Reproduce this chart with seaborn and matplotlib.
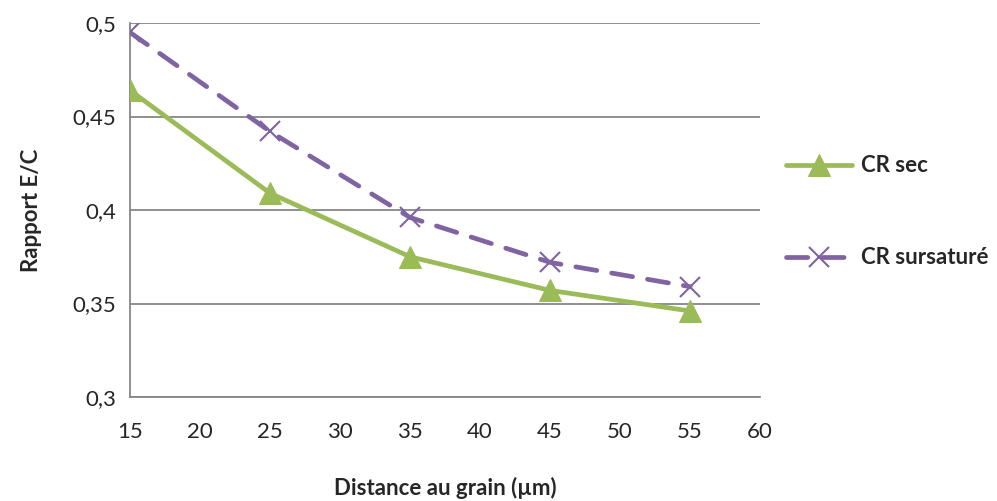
import pandas as pd
import seaborn as sns
import matplotlib.pyplot as plt
from matplotlib.ticker import FuncFormatter

distance = [15, 25, 35, 45, 55]
cr_sec = [0.464, 0.409, 0.375, 0.357, 0.346]
cr_sursature = [0.495, 0.442, 0.396, 0.372, 0.359]
series_names = ['CR sec', 'CR sursaturé']

df = pd.DataFrame({
    'distance': distance * 2,
    'ratio': cr_sec + cr_sursature,
    'serie': [series_names[0]] * len(distance) + [series_names[1]] * len(distance),
})

sns.set_style('white')
plt.rcParams['font.family'] = ['Lato', 'DejaVu Sans']

fig = plt.figure(figsize=(9.97, 5.01), dpi=100)
ax = fig.add_axes([0.1304, 0.2076, 0.632, 0.7464])

green = '#9BBB59'
purple = '#8064A2'

sns.lineplot(data=df[df['serie'] == series_names[0]], x='distance', y='ratio',
             color=green, linewidth=3.4, marker='^', markersize=16,
             markeredgecolor=green, ax=ax, label=series_names[0], zorder=3)
sns.lineplot(data=df[df['serie'] == series_names[1]], x='distance', y='ratio',
             color=purple, linewidth=3.4, dashes=(4.5, 3.2), dash_capstyle='round',
             marker='x', markersize=14, markeredgewidth=1.5, markeredgecolor=purple,
             ax=ax, label=series_names[1], zorder=3)

ax.set_xlim(15, 60)
ax.set_ylim(0.3, 0.5)
ax.set_xticks(range(15, 61, 5))
ax.set_yticks([0.3, 0.35, 0.4, 0.45, 0.5])
ax.yaxis.set_major_formatter(FuncFormatter(lambda v, p: f'{v:.2f}'.rstrip('0').replace('.', ',')))
ax.grid(axis='y', color='#868686', linewidth=1.3)
ax.grid(axis='x', visible=False)
for s in ['top', 'right']:
    ax.spines[s].set_visible(False)
for s in ['left', 'bottom']:
    ax.spines[s].set_color('#868686')
    ax.spines[s].set_linewidth(1.3)
ax.tick_params(axis='both', length=0, labelsize=16, pad=10)
ax.tick_params(axis='x', pad=18)

ax.set_xlabel('Distance au grain (µm)', fontsize=16, fontweight='bold', labelpad=25)
ax.set_ylabel('Rapport E/C', fontsize=16, fontweight='bold', labelpad=22)

ax.get_legend().remove()
h, l = ax.get_legend_handles_labels()
leg = fig.legend(h, l, loc='center left', bbox_to_anchor=(0.768, 0.577), frameon=False,
                 handlelength=3.0, labelspacing=3.2, handletextpad=0.4,
                 prop={'weight': 'bold', 'size': 16})

fig.savefig('out.png', dpi=100)
